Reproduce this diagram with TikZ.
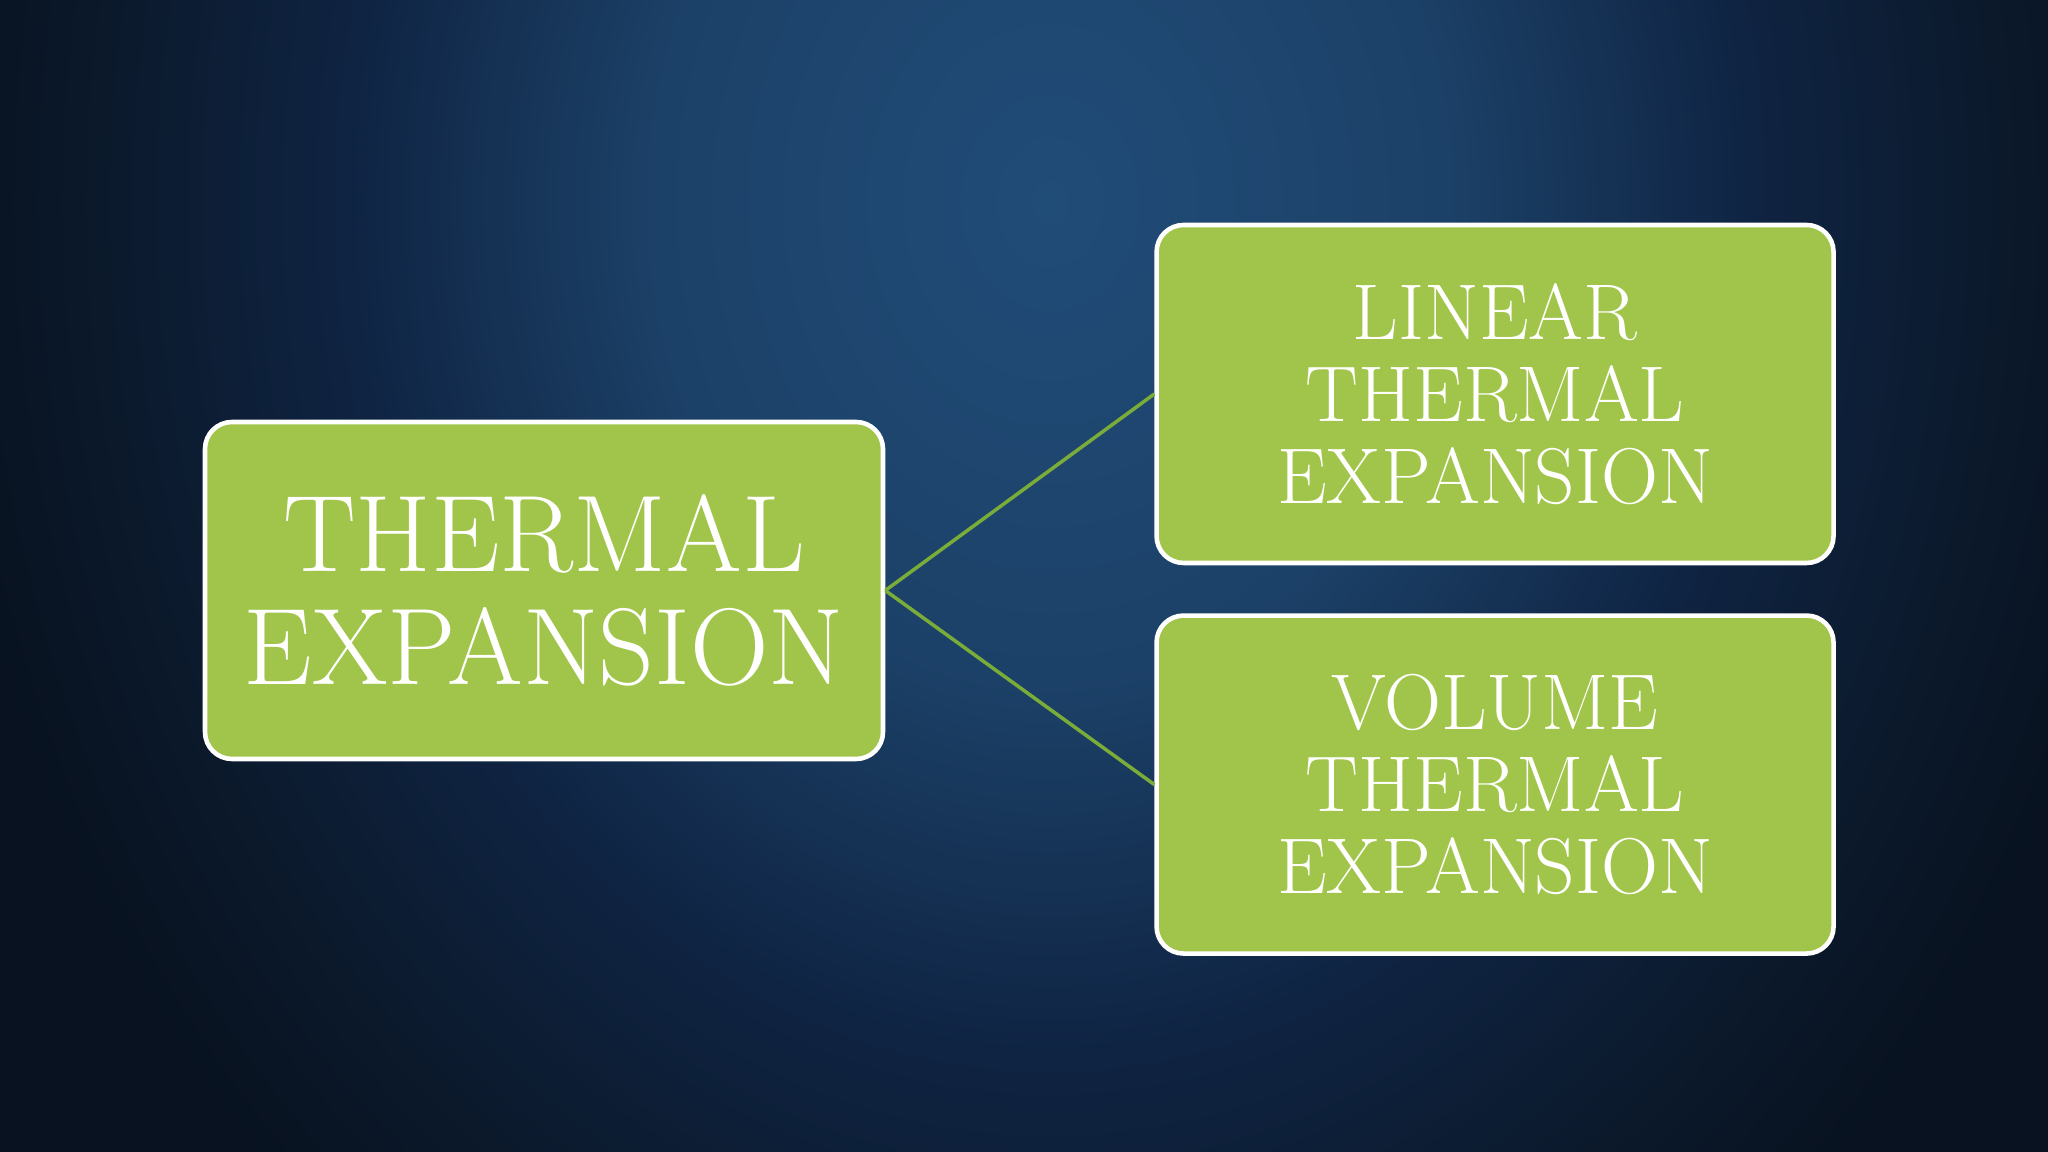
\documentclass[tikz,border=0pt]{standalone}
\usepackage{fontspec}
\usepackage{xcolor}
\usepackage{tikz}
\usetikzlibrary{shapes,arrows}
\usetikzlibrary{positioning}

\definecolor{leafgreen}{RGB}{161,197,74}
\definecolor{wiregreen}{RGB}{122,172,58}
\definecolor{bgin}{RGB}{32,76,120}
\definecolor{bgnear}{RGB}{28,65,104}
\definecolor{bgmid}{RGB}{15,36,67}
\definecolor{bgfar}{RGB}{11,25,43}
\definecolor{bgout}{RGB}{8,18,32}

\pgfdeclareradialshading{slideglow}{\pgfpoint{0bp}{0bp}}{%
  color(0bp)=(bgin); color(7bp)=(bgnear); color(12.5bp)=(bgmid);
  color(17bp)=(bgfar); color(20bp)=(bgout); color(50bp)=(bgout)}

\tikzstyle{block} = [rectangle, draw=white, line width=1.3pt, fill=leafgreen,
    text=white, align=center, rounded corners=0.27cm, inner sep=0pt]
\tikzstyle{bigblock} = [block, minimum width=6.78cm, minimum height=3.37cm,
    font=\fontsize{31}{32}\selectfont]
\tikzstyle{smallblock} = [block, minimum width=6.77cm, minimum height=3.38cm,
    font=\fontsize{22.5}{23.4}\selectfont]
\tikzstyle{line} = [draw=wiregreen, line width=1pt, -]

\begin{document}
\begin{tikzpicture}
  % Background
  \useasboundingbox (0,0) rectangle (20.48,11.52);
  \begin{scope}
    \clip (0,0) rectangle (20.48,11.52);
    \fill [bgout] (0,0) rectangle (20.48,11.52);
    \shade [shading=slideglow] (10.5,9.5) ellipse (14cm and 17cm);
  \end{scope}

  % Place nodes
  \node [bigblock] (thermal) at (5.44,5.615) {THERMAL\\EXPANSION};
  \node [smallblock, right=2.69cm of thermal.east, yshift=1.965cm] (linear)
    {LINEAR\\THERMAL\\EXPANSION};
  \node [smallblock, below=0.48cm of linear] (volume)
    {VOLUME\\THERMAL\\EXPANSION};

  % Draw edges
  \path [line] (thermal.east) -- (linear.west);
  \path [line] (thermal.east) -- (volume.west);
\end{tikzpicture}
\end{document}
